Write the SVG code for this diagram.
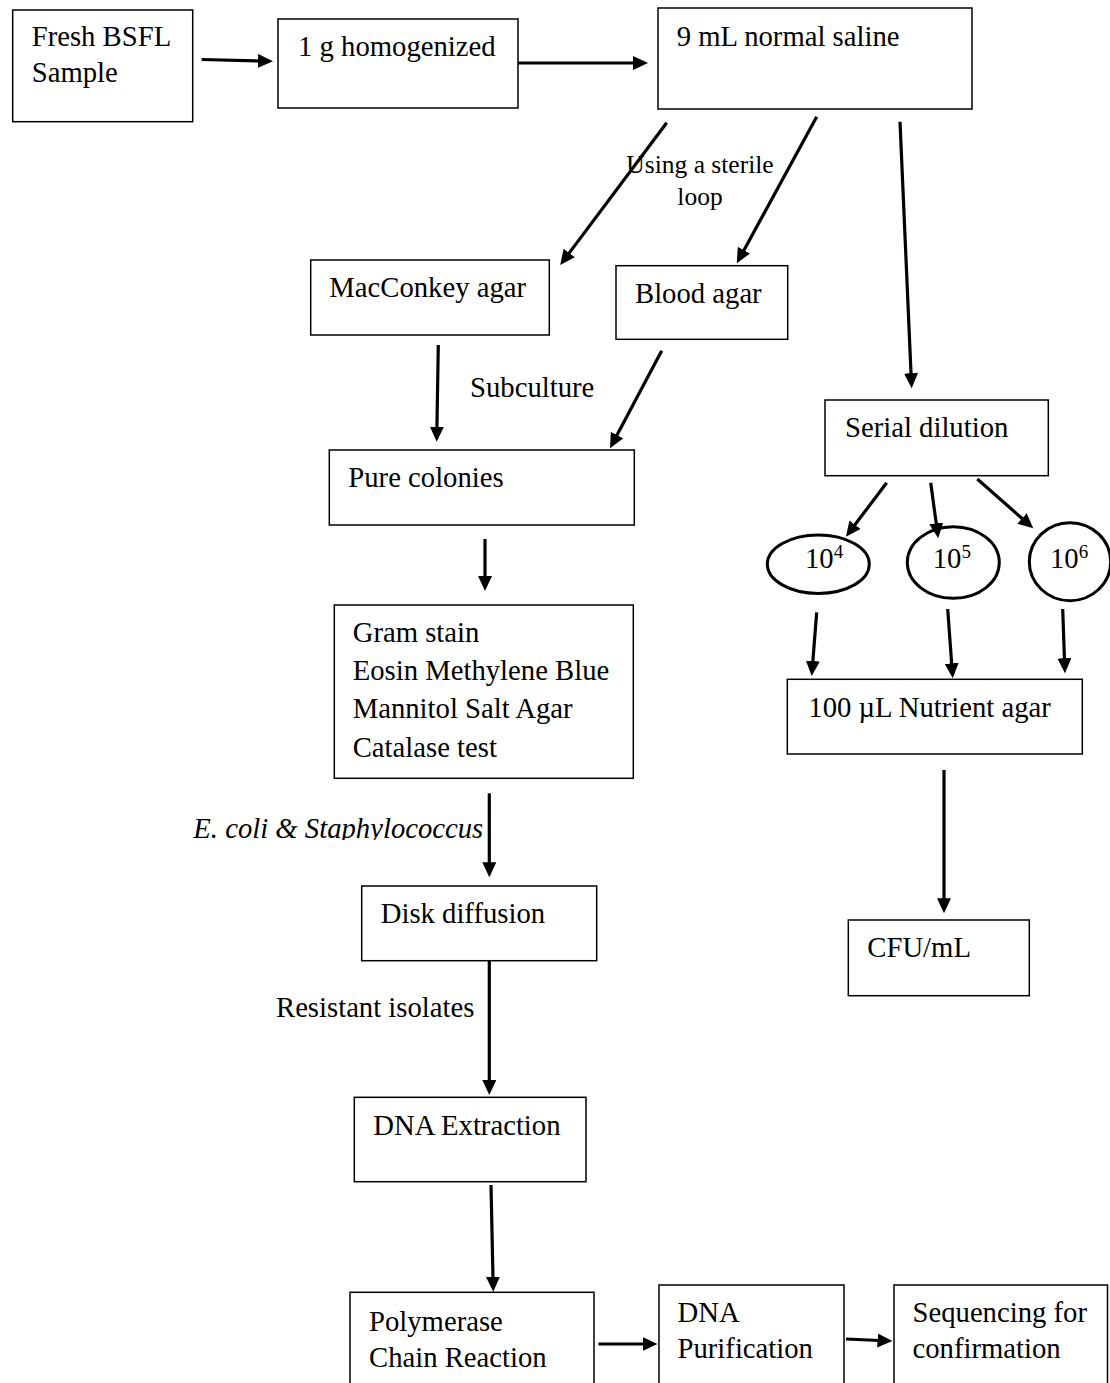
<svg xmlns="http://www.w3.org/2000/svg" width="1110" height="1383" viewBox="0 0 1110 1383">
<style>
  .box { fill: #fff; stroke: #000; stroke-width: 1.5; }
  .oval { fill: #fff; stroke: #000; stroke-width: 3; }
  .t { font-family: "Liberation Serif", "Times New Roman", serif; font-size: 28.7px; fill: #000; }
  .lbl { font-family: "Liberation Serif", "Times New Roman", serif; font-size: 25.5px; fill: #000; }
  .it { font-style: italic; }
  .c { fill: none; stroke: #000; stroke-width: 3.2; marker-end: url(#ah); }
</style>
<defs>
  <marker id="ah" markerUnits="userSpaceOnUse" markerWidth="18" markerHeight="16" refX="2" refY="7" orient="auto">
    <path d="M0,0 L15,7 L0,14 z" fill="#000"/>
  </marker>
  <clipPath id="clipEc"><rect x="180" y="800" width="320" height="40"/></clipPath>
</defs>
<rect width="1110" height="1383" fill="#fff"/>

<g id="n-fresh"><rect class="box" x="12.7" y="10" width="180" height="111.7"/>
  <text class="t" x="31.7" y="46">Fresh BSFL</text><text class="t" x="31.7" y="82">Sample</text></g>
<g id="n-homog"><rect class="box" x="278" y="19" width="240" height="89"/>
  <text class="t" x="298" y="56">1 g homogenized</text></g>
<g id="n-saline"><rect class="box" x="658" y="8" width="314" height="101"/>
  <text class="t" x="676.7" y="46">9 mL normal saline</text></g>
<g id="n-macconkey"><rect class="box" x="310.7" y="260" width="238.6" height="75"/>
  <text class="t" x="329.3" y="297">MacConkey agar</text></g>
<g id="n-blood"><rect class="box" x="616" y="265.7" width="171.7" height="73.6"/>
  <text class="t" x="635" y="303">Blood agar</text></g>
<g id="n-pure"><rect class="box" x="329.3" y="450" width="305" height="75"/>
  <text class="t" x="348.3" y="487">Pure colonies</text></g>
<g id="n-tests"><rect class="box" x="334.3" y="605" width="299" height="173.3"/>
  <text class="t" x="352.7" y="642">Gram stain</text>
  <text class="t" x="352.7" y="680">Eosin Methylene Blue</text>
  <text class="t" x="352.7" y="718.3">Mannitol Salt Agar</text>
  <text class="t" x="352.7" y="756.7">Catalase test</text></g>
<g id="n-disk"><rect class="box" x="361.7" y="886" width="235" height="74.7"/>
  <text class="t" x="380.7" y="923">Disk diffusion</text></g>
<g id="n-dnaext"><rect class="box" x="354.3" y="1097.3" width="231.7" height="84.4"/>
  <text class="t" x="373.3" y="1135">DNA Extraction</text></g>
<g id="n-pcr"><rect class="box" x="350" y="1292.3" width="244" height="110"/>
  <text class="t" x="369" y="1331">Polymerase</text><text class="t" x="369" y="1367">Chain Reaction</text></g>
<g id="n-purif"><rect class="box" x="659" y="1285" width="185" height="120"/>
  <text class="t" x="677.5" y="1321.5">DNA</text><text class="t" x="677.5" y="1358">Purification</text></g>
<g id="n-seq"><rect class="box" x="894" y="1285" width="213.5" height="120"/>
  <text class="t" x="912.5" y="1321.5">Sequencing for</text><text class="t" x="912.5" y="1358">confirmation</text></g>
<g id="n-serial"><rect class="box" x="825" y="400" width="223.3" height="75.7"/>
  <text class="t" x="845" y="437">Serial dilution</text></g>
<g id="n-d4"><ellipse class="oval" cx="818.3" cy="564.2" rx="51" ry="29.2"/>
  <text class="t" x="805" y="567.5">10<tspan font-size="19" dy="-10">4</tspan></text></g>
<g id="n-d5"><ellipse class="oval" cx="953.3" cy="562.5" rx="46" ry="35.8"/>
  <text class="t" x="932.7" y="567.5">10<tspan font-size="19" dy="-10">5</tspan></text></g>
<g id="n-d6"><ellipse class="oval" cx="1070" cy="561.7" rx="40.7" ry="39"/>
  <text class="t" x="1050" y="567.5">10<tspan font-size="19" dy="-10">6</tspan></text></g>
<g id="n-nutrient"><rect class="box" x="787.3" y="679.3" width="295" height="74.7"/>
  <text class="t" x="808.3" y="717">100 µL Nutrient agar</text></g>
<g id="n-cfu"><rect class="box" x="848.3" y="920" width="181" height="75.7"/>
  <text class="t" x="867.3" y="957.3">CFU/mL</text></g>

<g id="connectors">
  <line class="c" x1="201.7" y1="59.5" x2="260" y2="61"/>
  <line class="c" x1="518" y1="63" x2="635" y2="63"/>
  <line class="c" x1="666.7" y1="122.7" x2="568" y2="254.6"/>
  <line class="c" x1="816.7" y1="116.7" x2="743" y2="251.9"/>
  <line class="c" x1="900" y1="121.7" x2="911.1" y2="375.3"/>
  <line class="c" x1="438.3" y1="345" x2="436.9" y2="428.7"/>
  <line class="c" x1="661.7" y1="350.7" x2="616.1" y2="436.8"/>
  <line class="c" x1="485" y1="539" x2="485" y2="578"/>
  <line class="c" x1="489.3" y1="793.3" x2="489.3" y2="864.3"/>
  <line class="c" x1="489.3" y1="960.7" x2="489.3" y2="1082"/>
  <line class="c" x1="491" y1="1185" x2="493" y2="1278.7"/>
  <line class="c" x1="598.5" y1="1344" x2="644.5" y2="1344"/>
  <line class="c" x1="846" y1="1339" x2="879.5" y2="1340.5"/>
  <line class="c" x1="886.7" y1="482.7" x2="853.8" y2="526.3"/>
  <line class="c" x1="930.7" y1="482.7" x2="936.5" y2="525.4"/>
  <line class="c" x1="977.3" y1="479" x2="1023.5" y2="519.7"/>
  <line class="c" x1="816.7" y1="612.3" x2="812.7" y2="663"/>
  <line class="c" x1="947.7" y1="609" x2="951.8" y2="665.3"/>
  <line class="c" x1="1062.7" y1="609" x2="1064.5" y2="660.3"/>
  <line class="c" x1="944" y1="770" x2="944" y2="900.3"/>
</g>

<g id="labels">
  <text class="lbl" x="700" y="173.3" text-anchor="middle">Using a sterile</text>
  <text class="lbl" x="700" y="205" text-anchor="middle">loop</text>
  <text class="t" x="470" y="397.3">Subculture</text>
  <text class="t it" x="193.3" y="838.3" clip-path="url(#clipEc)">E. coli &amp; Staphylococcus</text>
  <text class="t" x="276" y="1017">Resistant isolates</text>
</g>
</svg>
